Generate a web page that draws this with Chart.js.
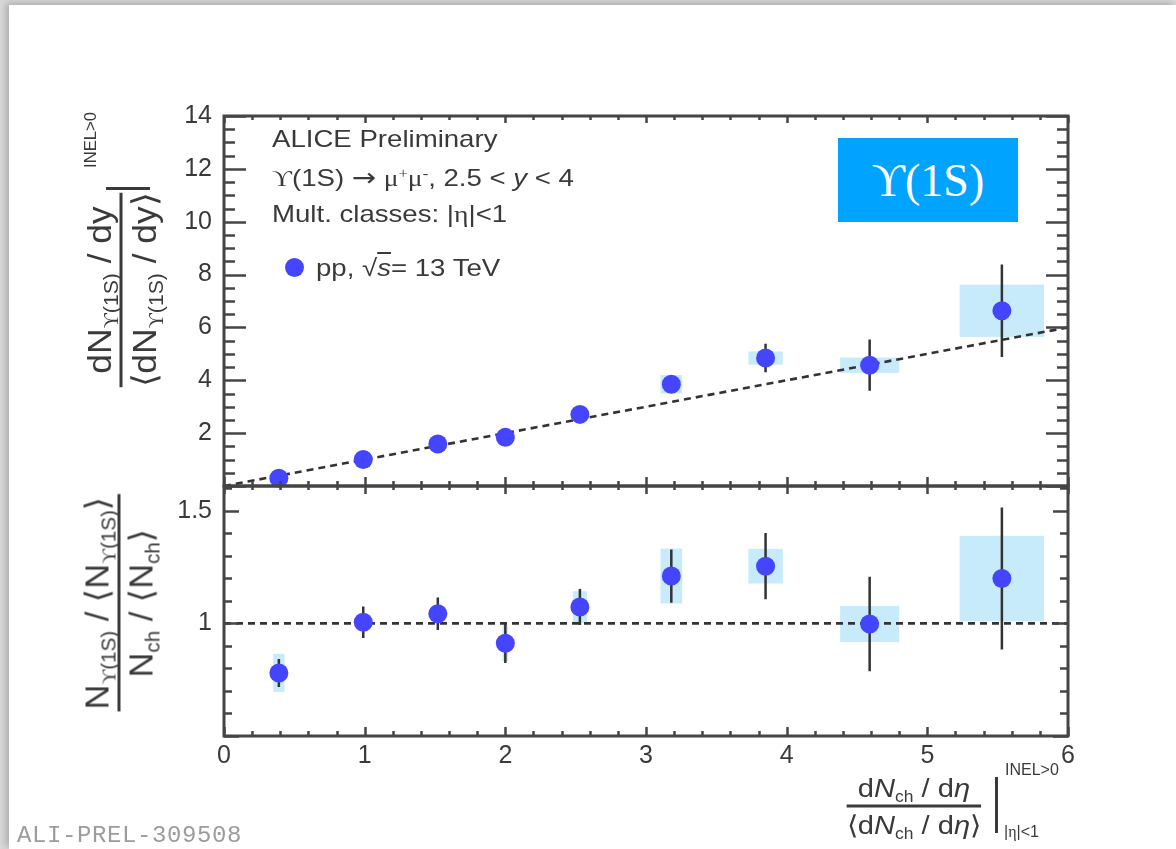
<!DOCTYPE html>
<html>
<head>
<meta charset="utf-8">
<title>Upsilon(1S) self-normalised yield vs multiplicity</title>
<script src="https://cdn.jsdelivr.net/npm/chart.js@4.4.1/dist/chart.umd.min.js"></script>
<style>
  html, body { margin: 0; padding: 0; }
  body { width: 1176px; height: 849px; position: relative; overflow: hidden; background: #d9d9d9;
         font-family: "Liberation Sans", Arial, Helvetica, sans-serif; color: #3a3a3a; }
  #sheet { position: absolute; left: 9px; top: 5px; right: 0; bottom: 0; background: #fff;
           box-shadow: -3px -2px 7px rgba(0,0,0,0.22); }
  canvas { position: absolute; left: 0; }
  #topChart { top: 0; }
  #ratioChart { top: 450px; }
  .txt { position: absolute; white-space: nowrap; line-height: 1; }
  .sy { font-family: "Liberation Serif", "DejaVu Serif", serif; }
  .ar { font-family: "DejaVu Sans", sans-serif; font-size: 1.05em; }
  .leg { font-size: 24px; transform: scaleX(1.15); transform-origin: 0 0; }
  .rot { transform-origin: 50% 50%; transform: translate(-50%, -50%) rotate(-90deg) scaleX(1.04); }
  .frac { display: inline-flex; flex-direction: column; align-items: stretch; text-align: center; }
  .frac .n { border-bottom: 3px solid #3a3a3a; padding: 0 2px 4px; }
  .frac .d { padding-top: 4px; }
  sub { font-size: 0.6em; vertical-align: -0.35em; line-height: 0; }
  sup { font-size: 0.6em; vertical-align: 0.55em; line-height: 0; }
  #ybox { position: absolute; left: 838px; top: 138px; width: 180px; height: 84px; background: #00a4ff; color: #fff;
          font-family: "Liberation Serif", "DejaVu Serif", serif; font-size: 46px;
          display: flex; align-items: center; justify-content: center; }
  .bar { position: absolute; background: #3a3a3a; }
  #mark { position: absolute; left: 285px; top: 258px; width: 19px; height: 19px; border-radius: 50%; background: #4545ff; }
  #alitag { position: absolute; left: 17px; top: 822px; font-family: "Liberation Mono", "Courier New", monospace;
            font-size: 24px; letter-spacing: 0.6px; color: #9c9c9c; }
</style>
</head>
<body>
<div id="sheet"></div>
<canvas id="topChart" width="1176" height="520"></canvas>
<canvas id="ratioChart" width="1176" height="399"></canvas>

<div class="txt leg" style="left:272px; top:127px;">ALICE Preliminary</div>
<div class="txt leg" style="left:272px; top:165px;"><span class="sy">ϒ</span>(1S) <span class="ar">→</span> <span class="sy">μ<sup>+</sup>μ<sup>-</sup></span>, 2.5 &lt; <i>y</i> &lt; 4</div>
<div class="txt leg" style="left:272px; top:202px;">Mult. classes: |<span class="sy">η</span>|&lt;1</div>
<div id="mark"></div>
<div class="txt leg" style="left:316px; top:256px;">pp, √<i style="text-decoration:overline">s</i>= 13 TeV</div>
<div id="ybox">ϒ(1S)</div>

<div class="txt rot" style="left:121px; top:290px; font-size:34px;">
  <div class="frac"><div class="n">dN<sub><span class="sy">ϒ</span>(1S)</sub> / dy</div><div class="d">⟨dN<sub><span class="sy">ϒ</span>(1S)</sub> / dy⟩</div></div>
</div>
<div class="bar" style="left:106px; top:187px; width:44px; height:3px;"></div>
<div class="txt rot" style="left:91px; top:140px; font-size:16px;">INEL&gt;0</div>

<div class="txt rot" style="left:119px; top:603px; font-size:33px;">
  <div class="frac"><div class="n">N<sub><span class="sy">ϒ</span>(1S)</sub> / ⟨N<sub><span class="sy">ϒ</span>(1S)</sub>⟩</div><div class="d">N<sub>ch</sub> / ⟨N<sub>ch</sub>⟩</div></div>
</div>

<div class="txt" style="left:914px; top:806px; transform:translate(-50%,-50%) scaleX(1.12); font-size:26px;">
  <div class="frac"><div class="n">d<i>N</i><sub>ch</sub> / d<i>η</i></div><div class="d">⟨d<i>N</i><sub>ch</sub> / d<i>η</i>⟩</div></div>
</div>
<div class="bar" style="left:995px; top:777px; width:3px; height:56px;"></div>
<div class="txt" style="left:1005px; top:762px; font-size:16px;">INEL&gt;0</div>
<div class="txt" style="left:1004px; top:824px; font-size:16px;">|<span class="sy">η</span>|&lt;1</div>

<div id="alitag">ALI-PREL-309508</div>

<script>
// values (ALI-PREL-309508)
const multBins  = [0.39, 0.99, 1.52, 2.00, 2.53, 3.18, 3.85, 4.59, 5.53];
const multWidth = [0.04, 0.03, 0.03, 0.02, 0.05, 0.077, 0.122, 0.21, 0.30];

const yieldNorm = [0.29, 1.00, 1.59, 1.84, 2.71, 3.85, 4.84, 4.57, 6.63];
const yieldStat = [0.02, 0.07, 0.11, 0.16, 0.20, 0.25, 0.54, 0.97, 1.75];
const yieldSyst = [0.03, 0.03, 0.05, 0.07, 0.13, 0.35, 0.25, 0.29, 0.99];

const ratioVals = [0.78, 1.005, 1.043, 0.912, 1.073, 1.21, 1.254, 0.997, 1.199];
const ratioStat = [0.062, 0.07, 0.072, 0.088, 0.08, 0.118, 0.147, 0.21, 0.315];
const ratioSyst = [0.085, 0.03, 0.03, 0.08, 0.07, 0.122, 0.077, 0.08, 0.19];

const xTickLabels = [0, 1, 2, 3, 4, 5, 6];
const yieldTickLabels = [2, 4, 6, 8, 10, 12, 14];
const ratioTickLabels = [1, 1.5];

const markerColor = '#4545ff';
const frameColor = '#454545';

Chart.defaults.font.family = '"Liberation Sans", Arial, sans-serif';
Chart.defaults.color = '#3a3a3a';

// systematic boxes + statistical bars, drawn under the markers
function errorPlugin(vals, stat, syst) {
  return {
    id: 'errors',
    beforeDatasetsDraw(chart) {
      const { ctx } = chart;
      const xs = chart.scales.x, ys = chart.scales.y;
      ctx.save();
      ctx.fillStyle = '#c7ebfb';
      multBins.forEach((x, i) => {
        const l = xs.getPixelForValue(x - multWidth[i]);
        const r = xs.getPixelForValue(x + multWidth[i]);
        const t = ys.getPixelForValue(vals[i] + syst[i]);
        const b = ys.getPixelForValue(vals[i] - syst[i]);
        ctx.fillRect(l, t, r - l, b - t);
      });
      ctx.strokeStyle = '#333';
      ctx.lineWidth = 2.5;
      ctx.beginPath();
      multBins.forEach((x, i) => {
        const px = xs.getPixelForValue(x);
        ctx.moveTo(px, ys.getPixelForValue(vals[i] + stat[i]));
        ctx.lineTo(px, ys.getPixelForValue(vals[i] - stat[i]));
      });
      ctx.stroke();
      ctx.restore();
    }
  };
}

// ROOT style frame with inward ticks on all four sides
function framePlugin(cfg) {
  return {
    id: 'frame',
    afterDraw(chart) {
      const { ctx, chartArea: a } = chart;
      const xs = chart.scales.x, ys = chart.scales.y;
      ctx.save();
      ctx.strokeStyle = frameColor;
      ctx.lineWidth = 2.5;
      ctx.beginPath();
      let start = Math.ceil(ys.min / cfg.yMinor - 1e-6);
      let end = Math.floor(ys.max / cfg.yMinor + 1e-6);
      for (let k = start; k <= end; k++) {
        const v = k * cfg.yMinor;
        const py = Math.round(ys.getPixelForValue(v)) + 0.5;
        const r = v / cfg.yMajor;
        const len = Math.abs(r - Math.round(r)) < 1e-6 ? cfg.yLen[0] : cfg.yLen[1];
        ctx.moveTo(a.left, py); ctx.lineTo(a.left + len, py);
        ctx.moveTo(a.right, py); ctx.lineTo(a.right - len, py);
      }
      for (let k = 0; k <= 30; k++) {
        const v = k * 0.2;
        const px = Math.round(xs.getPixelForValue(v)) + 0.5;
        const major = k % 5 === 0;
        const lb = major ? cfg.xBot[0] : cfg.xBot[1];
        const lt = major ? cfg.xTop[0] : cfg.xTop[1];
        ctx.moveTo(px, a.bottom); ctx.lineTo(px, a.bottom - lb);
        ctx.moveTo(px, a.top); ctx.lineTo(px, a.top + lt);
      }
      ctx.stroke();
      ctx.lineWidth = 3;
      ctx.strokeRect(a.left, a.top, a.right - a.left, a.bottom - a.top);
      ctx.restore();
    }
  };
}

const tickFont = { size: 25 };

// upper panel: normalised yield, canvas 0..520, plot area 116..486
new Chart(document.getElementById('topChart'), {
  type: 'scatter',
  data: {
    datasets: [
      {
        data: multBins.map((x, i) => ({ x: x, y: yieldNorm[i] })),
        backgroundColor: markerColor,
        borderWidth: 0,
        pointRadius: 9.5,
        order: 0,
        clip: false
      },
      {
        type: 'line',
        data: [{ x: 0, y: 0 }, { x: 6, y: 6 }],
        borderColor: '#333',
        borderWidth: 2.6,
        borderDash: [7, 5],
        pointRadius: 0,
        order: 1,
        clip: false
      }
    ]
  },
  options: {
    responsive: false,
    animation: false,
    events: [],
    layout: { padding: { left: 0, top: 116, right: 108, bottom: 34 } },
    plugins: { legend: { display: false }, tooltip: { enabled: false } },
    scales: {
      x: { type: 'linear', min: 0, max: 6, display: false },
      y: {
        type: 'linear', min: 0, max: 14,
        afterBuildTicks: s => { s.ticks = yieldTickLabels.map(v => ({ value: v })); },
        afterFit: s => { s.width = 224; },
        ticks: { font: tickFont, padding: 12, autoSkip: false, callback: v => String(v) },
        grid: { display: false, drawTicks: false },
        border: { display: false }
      }
    }
  },
  plugins: [
    errorPlugin(yieldNorm, yieldStat, yieldSyst),
    framePlugin({ yMinor: 0.5, yMajor: 2, yLen: [22, 11], xBot: [9, 5], xTop: [7, 4] })
  ]
});

// lower panel: ratio, canvas 450..849, plot area 486..736
new Chart(document.getElementById('ratioChart'), {
  type: 'scatter',
  data: {
    datasets: [
      {
        data: multBins.map((x, i) => ({ x: x, y: ratioVals[i] })),
        backgroundColor: markerColor,
        borderWidth: 0,
        pointRadius: 9.5,
        order: 0,
        clip: false
      },
      {
        type: 'line',
        data: [{ x: 0, y: 1 }, { x: 6, y: 1 }],
        borderColor: '#333',
        borderWidth: 2.6,
        borderDash: [7, 5],
        pointRadius: 0,
        order: 1,
        clip: false
      }
    ]
  },
  options: {
    responsive: false,
    animation: false,
    events: [],
    layout: { padding: { left: 0, top: 36, right: 108, bottom: 0 } },
    plugins: { legend: { display: false }, tooltip: { enabled: false } },
    scales: {
      x: {
        type: 'linear', min: 0, max: 6,
        afterBuildTicks: s => { s.ticks = xTickLabels.map(v => ({ value: v })); },
        afterFit: s => { s.height = 113; },
        ticks: { font: tickFont, padding: 5, autoSkip: false, maxRotation: 0, callback: v => String(v) },
        grid: { display: false, drawTicks: false },
        border: { display: false }
      },
      y: {
        type: 'linear', min: 0.5, max: 1.61,
        afterBuildTicks: s => { s.ticks = ratioTickLabels.map(v => ({ value: v })); },
        afterFit: s => { s.width = 224; },
        ticks: { font: tickFont, padding: 12, autoSkip: false, callback: v => String(v) },
        grid: { display: false, drawTicks: false },
        border: { display: false }
      }
    }
  },
  plugins: [
    errorPlugin(ratioVals, ratioStat, ratioSyst),
    framePlugin({ yMinor: 0.1, yMajor: 0.5, yLen: [15, 8], xBot: [9, 5], xTop: [8, 4] })
  ]
});
</script>
</body>
</html>
